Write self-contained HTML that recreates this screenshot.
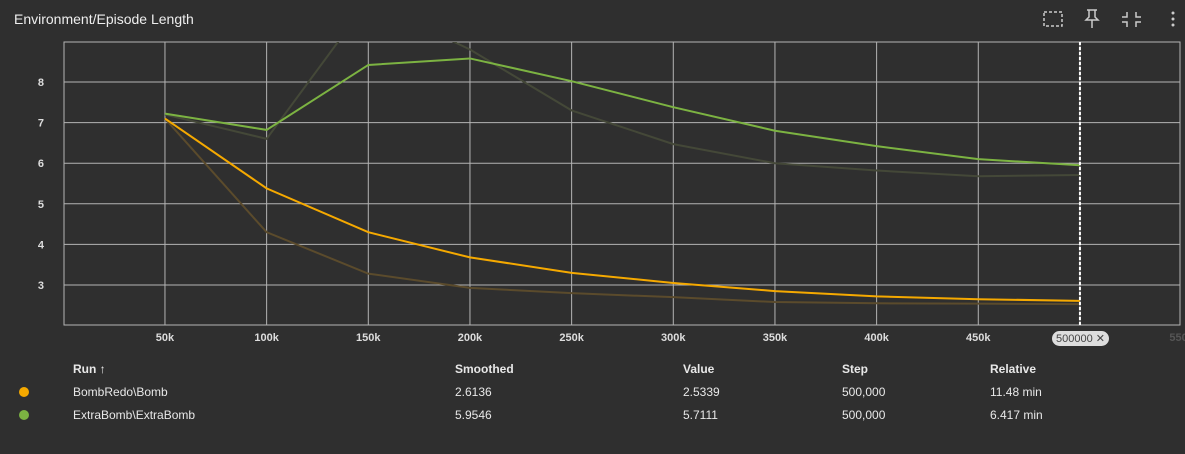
<!DOCTYPE html>
<html><head><meta charset="utf-8"><style>
body{margin:0;width:1185px;height:454px;background:#2f2f2f;font-family:"Liberation Sans",sans-serif;color:#e8e8e8;overflow:hidden;position:relative}
.t{position:absolute;font-size:12px}
</style></head><body>
<div class="t" style="left:14px;top:11px;font-size:14px;color:#eee">Environment/Episode Length</div>
<svg width="200" height="30" style="position:absolute;left:1030px;top:4px">
<rect x="14" y="8" width="18" height="14" fill="none" stroke="#ccc" stroke-width="1.5" stroke-dasharray="3,2"/>
<path d="M57 6h10M59 6v7l-3 3h12l-3-3v-7M62 16v8" stroke="#ccc" stroke-width="1.5" fill="none"/>
<path d="M97 8v5h-5M106 8v5h5M97 23v-5h-5M106 23v-5h5" stroke="#ccc" stroke-width="1.5" fill="none"/>
<g fill="#ccc"><circle cx="143" cy="9" r="1.5"/><circle cx="143" cy="15" r="1.5"/><circle cx="143" cy="21" r="1.5"/></g>
</svg>
<svg id="c" width="1185" height="350" style="position:absolute;left:0;top:0"></svg>
<div class="t" style="left:1052px;top:331px;background:#ddd;color:#444;border-radius:9px;padding:1px 4px;font-size:11px">500000 ✕</div>
<div>
<div class="t" style="left:73px;top:362px;font-weight:bold">Run ↑</div>
<div class="t" style="left:455px;top:362px;font-weight:bold">Smoothed</div>
<div class="t" style="left:683px;top:362px;font-weight:bold">Value</div>
<div class="t" style="left:842px;top:362px;font-weight:bold">Step</div>
<div class="t" style="left:990px;top:362px;font-weight:bold">Relative</div>
<div style="position:absolute;left:19px;top:387px;width:10px;height:10px;border-radius:50%;background:#f5a900"></div>
<div class="t" style="left:73px;top:385px">BombRedo\Bomb</div>
<div class="t" style="left:455px;top:385px">2.6136</div>
<div class="t" style="left:683px;top:385px">2.5339</div>
<div class="t" style="left:842px;top:385px">500,000</div>
<div class="t" style="left:990px;top:385px">11.48 min</div>
<div style="position:absolute;left:19px;top:410px;width:10px;height:10px;border-radius:50%;background:#7cb342"></div>
<div class="t" style="left:73px;top:408px">ExtraBomb\ExtraBomb</div>
<div class="t" style="left:455px;top:408px">5.9546</div>
<div class="t" style="left:683px;top:408px">5.7111</div>
<div class="t" style="left:842px;top:408px">500,000</div>
<div class="t" style="left:990px;top:408px">6.417 min</div>
</div>
<script>
const steps=[50,100,150,200,250,300,350,400,450,500];
const orangeSmooth=[7.1,5.38,4.3,3.68,3.3,3.05,2.85,2.72,2.65,2.61];
const orangeRaw=[7.1,4.3,3.28,2.93,2.8,2.7,2.58,2.55,2.54,2.53];
const greenSmooth=[7.22,6.82,8.42,8.58,8.02,7.38,6.8,6.42,6.1,5.95];
const greenRaw=[7.2,6.6,10.0,8.8,7.3,6.47,6.0,5.82,5.68,5.71];
const xTicks=[50,100,150,200,250,300,350,400,450,500,550];
const yTicks=[3,4,5,6,7,8];
const L=64,R=1180,T=42,B=325;
const x=v=>63.3+v*2.0333, y=v=>82+(8-v)*40.6;
const s=document.getElementById('c'),NS='http://www.w3.org/2000/svg';
function mk(t,a){const e=document.createElementNS(NS,t);for(const k in a)e.setAttribute(k,a[k]);s.appendChild(e);return e;}
const cp=mk('clipPath',{id:'cl'});const cr=document.createElementNS(NS,'rect');cr.setAttribute('x',L);cr.setAttribute('y',T);cr.setAttribute('width',R-L);cr.setAttribute('height',B-T);cp.appendChild(cr);
const frame=mk('rect',{x:L,y:T,width:R-L,height:B-T,fill:'none',stroke:'#b4b4b4'});


xTicks.forEach(v=>{
 if(v<550){const g=mk('line',{x1:x(v),x2:x(v),y1:T,y2:B,stroke:'#b4b4b4'});
 
 }
 const t=mk('text',{x:x(v),y:341,'text-anchor':'middle','font-size':11,'font-weight':'bold',fill:v==550?'#555':'#ddd'});
 
 
 t.textContent=v==500?'':v+'k';
});
yTicks.forEach(v=>{
 const g=mk('line',{x1:L,x2:R,y1:y(v),y2:y(v),stroke:'#b4b4b4'});
 
 
 const t=mk('text',{x:44,y:y(v)+4,'text-anchor':'end','font-size':11,'font-weight':'bold',fill:'#ddd'});
 
 
 t.textContent=v;
});
function line(d,c,w,n){const p=mk('polyline',{points:d.map((v,i)=>x(steps[i])+','+y(v)).join(' '),fill:'none',stroke:c,'stroke-width':w,'clip-path':'url(#cl)'});
 
 }
line(orangeRaw,'#5b4b2c',2,'bombredo-raw-line');
line(greenRaw,'#444838',2,'extrabomb-raw-line');
line(orangeSmooth,'#f5a900',2,'bombredo-smoothed-line');
line(greenSmooth,'#7cb342',2,'extrabomb-smoothed-line');
const m=mk('line',{x1:x(500),x2:x(500),y1:T,y2:B,stroke:'#fff','stroke-width':2,'stroke-dasharray':'3,2'});


</script>
</body></html>
